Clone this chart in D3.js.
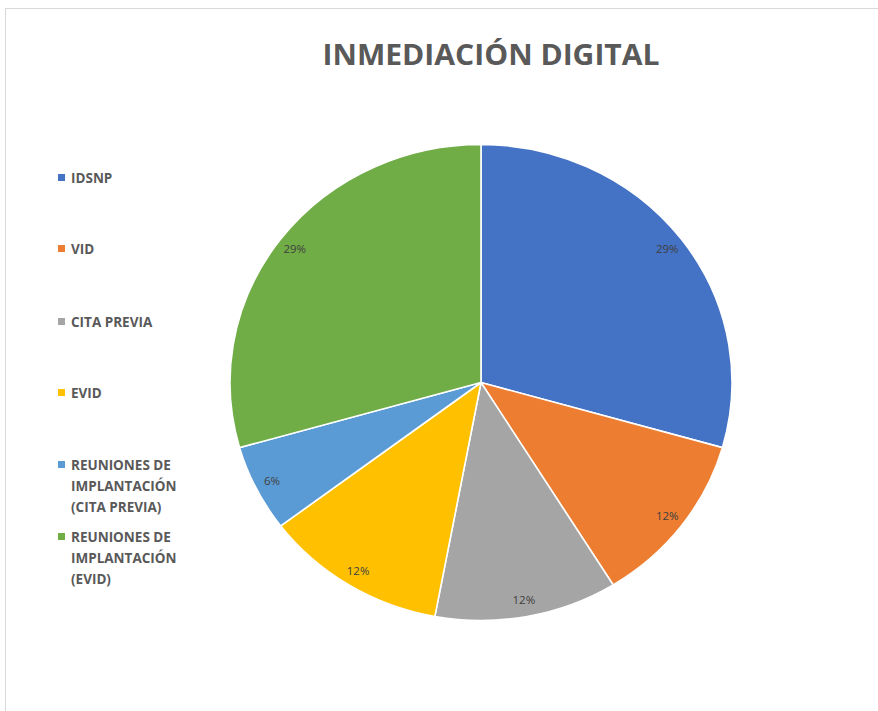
<!DOCTYPE html>
<html>
<head>
<meta charset="utf-8">
<script src="https://cdn.jsdelivr.net/npm/d3@7"></script>
<style>
  html, body { margin: 0; padding: 0; background: #fff; }
  svg { display: block; }
</style>
</head>
<body>
<svg id="chart" width="878" height="711"></svg>
<script>
// Chart data: number of items per category
const categories = [
  "IDSNP",
  "VID",
  "CITA PREVIA",
  "EVID",
  "REUNIONES DE IMPLANTACIÓN (CITA PREVIA)",
  "REUNIONES DE IMPLANTACIÓN (EVID)"
];
const values = [5, 2, 2, 2, 1, 5];
const legendLines = [
  ["IDSNP"],
  ["VID"],
  ["CITA PREVIA"],
  ["EVID"],
  ["REUNIONES DE", "IMPLANTACIÓN", "(CITA PREVIA)"],
  ["REUNIONES DE", "IMPLANTACIÓN", "(EVID)"]
];
const colors = ["#4472c4", "#ed7d31", "#a5a5a5", "#ffc000", "#5b9bd5", "#70ad47"];
const titleText = "INMEDIACIÓN DIGITAL";

const total = d3.sum(values);
const pct = d3.format(".0%");

const svg = d3.select("#chart");

// Chart-area frame
svg.append("rect")
  .attr("x", 5.5).attr("y", 8.5)
  .attr("width", 900).attr("height", 760)
  .attr("fill", "#fff")
  .attr("stroke", "#d9d9d9").attr("stroke-width", 1);

// Title
svg.append("text")
  .attr("x", 491).attr("y", 65)
  .attr("text-anchor", "middle")
  .attr("font-family", "'Open Sans', 'Noto Sans', sans-serif")
  .attr("font-weight", 700)
  .attr("font-size", 29)
  .attr("fill", "#595959")
  .attr("textLength", 337)
  .attr("lengthAdjust", "spacingAndGlyphs")
  .text(titleText);

// Pie geometry (slightly wider than tall)
const cx = 481, cy = 382.5;
const radius = 238;
const sx = 251 / 238;

const pie = d3.pie().sort(null).value(d => d);
const arcs = pie(values);
const arc = d3.arc().innerRadius(0).outerRadius(radius);
const labelArc = d3.arc().innerRadius(radius * 0.93).outerRadius(radius * 0.93);

const pieG = svg.append("g")
  .attr("transform", `translate(${cx},${cy}) scale(${sx},1)`);

pieG.selectAll("path")
  .data(arcs)
  .join("path")
  .attr("d", arc)
  .attr("fill", (d, i) => colors[i])
  .attr("stroke", "#fff")
  .attr("stroke-width", 1.6)
  .attr("vector-effect", "non-scaling-stroke");

// Percentage labels, derived from the slice values
svg.append("g")
  .selectAll("text")
  .data(arcs)
  .join("text")
  .attr("x", d => cx + labelArc.centroid(d)[0] * sx)
  .attr("y", d => cy + labelArc.centroid(d)[1])
  .attr("dy", "0.35em")
  .attr("text-anchor", "middle")
  .attr("font-family", "'Open Sans', 'Noto Sans', sans-serif")
  .attr("font-size", 11.5)
  .attr("fill", "#404040")
  .text(d => pct(d.data / total));

// Legend
const legendY = [178, 249, 322, 393, 465, 537];
const legend = svg.append("g");
legendLines.forEach((lines, i) => {
  const g = legend.append("g");
  g.append("rect")
    .attr("x", 58).attr("y", legendY[i] - 4)
    .attr("width", 7).attr("height", 7)
    .attr("fill", colors[i]);
  lines.forEach((ln, j) => {
    g.append("text")
      .attr("x", 71).attr("y", legendY[i] + j * 21)
      .attr("dy", "0.35em")
      .attr("font-family", "'Open Sans', 'Noto Sans', sans-serif")
      .attr("font-weight", 700)
      .attr("font-size", 13.5)
      .attr("fill", "#595959")
      .text(ln);
  });
});
</script>
</body>
</html>
